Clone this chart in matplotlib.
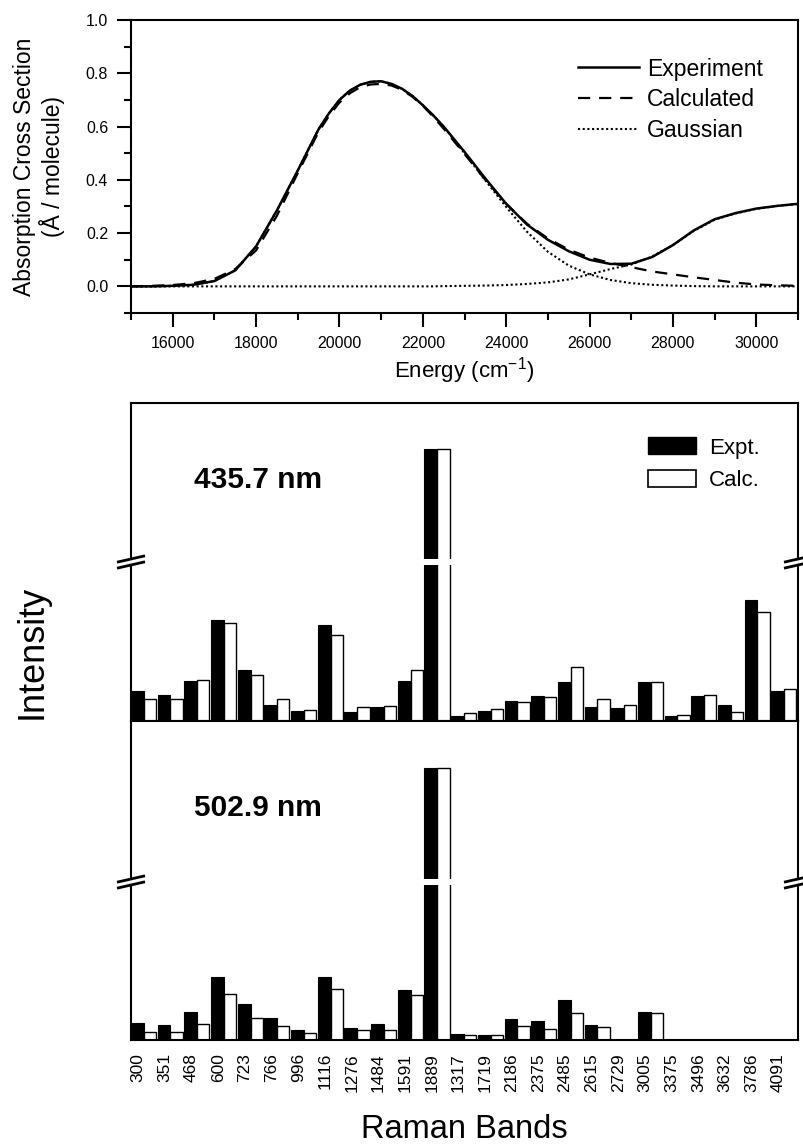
import numpy as np
import matplotlib
matplotlib.use("Agg")
import matplotlib.pyplot as plt
from matplotlib.lines import Line2D
from matplotlib.patches import Patch

plt.rcParams['font.family'] = ['Liberation Sans', 'DejaVu Sans']
plt.rcParams['mathtext.fontset'] = 'custom'
plt.rcParams['mathtext.rm'] = 'Liberation Sans'
plt.rcParams['mathtext.default'] = 'regular'

# ---- absorption spectrum ----
energy = [15000, 15500, 16000, 16500, 17000, 17500, 18000, 18500, 19000, 19500,
          19750, 20000, 20250, 20500, 20750, 21000, 21250, 21500, 21750, 22000,
          22250, 22500, 23000, 23500, 24000, 24500, 25000, 25500, 26000, 26500,
          27000, 27500, 28000, 28500, 29000, 29500, 30000, 30500, 31000]
experiment = [0.000, 0.000, 0.002, 0.006, 0.020, 0.060, 0.150, 0.285, 0.435, 0.590,
              0.650, 0.700, 0.735, 0.757, 0.768, 0.770, 0.760, 0.742, 0.715, 0.680,
              0.642, 0.600, 0.505, 0.405, 0.310, 0.232, 0.175, 0.132, 0.100, 0.084,
              0.085, 0.110, 0.155, 0.210, 0.252, 0.275, 0.292, 0.302, 0.310]
calculated = [0.000, 0.002, 0.005, 0.012, 0.028, 0.065, 0.135, 0.265, 0.425, 0.580,
              0.640, 0.690, 0.725, 0.748, 0.758, 0.760, 0.754, 0.738, 0.712, 0.678,
              0.637, 0.592, 0.497, 0.400, 0.310, 0.235, 0.180, 0.138, 0.108, 0.088,
              0.072, 0.056, 0.045, 0.034, 0.024, 0.014, 0.007, 0.004, 0.002]
gauss_main = [0.000, 0.000, 0.002, 0.006, 0.020, 0.060, 0.150, 0.285, 0.435, 0.590,
              0.650, 0.700, 0.735, 0.757, 0.768, 0.770, 0.760, 0.742, 0.715, 0.680,
              0.642, 0.600, 0.500, 0.398, 0.298, 0.205, 0.130, 0.078, 0.045, 0.024,
              0.012, 0.006, 0.003, 0.001, 0.000, 0.000, 0.000, 0.000, 0.000]
gauss_high = [0.000, 0.000, 0.000, 0.000, 0.000, 0.000, 0.000, 0.000, 0.000, 0.000,
              0.000, 0.000, 0.000, 0.000, 0.000, 0.000, 0.000, 0.000, 0.000, 0.000,
              0.000, 0.001, 0.002, 0.003, 0.005, 0.009, 0.015, 0.026, 0.045, 0.065,
              0.082, 0.112, 0.155, 0.208, 0.250, 0.274, 0.291, 0.302, 0.309]

# ---- Raman intensities (arbitrary units) ----
bands = ['300', '351', '468', '600', '723', '766', '996', '1116', '1276', '1484',
         '1591', '1889', '1317', '1719', '2186', '2375', '2485', '2615', '2729',
         '3005', '3375', '3496', '3632', '3786', '4091']
expt_436 = [0.30, 0.26, 0.40, 1.01, 0.51, 0.16, 0.10, 0.96, 0.09, 0.14, 0.40, 4.10, 0.05,
            0.10, 0.20, 0.25, 0.39, 0.14, 0.13, 0.39, 0.05, 0.25, 0.16, 1.21, 0.30]
calc_436 = [0.22, 0.22, 0.41, 0.98, 0.46, 0.22, 0.11, 0.86, 0.14, 0.15, 0.51, 4.10, 0.08,
            0.12, 0.19, 0.24, 0.54, 0.22, 0.16, 0.39, 0.06, 0.26, 0.09, 1.09, 0.32]
expt_503 = [0.17, 0.15, 0.28, 0.63, 0.36, 0.22, 0.10, 0.63, 0.12, 0.16, 0.50, 4.11, 0.06,
            0.05, 0.21, 0.19, 0.40, 0.15, 0.00, 0.28, 0.00, 0.00, 0.00, 0.00, 0.00]
calc_503 = [0.08, 0.08, 0.16, 0.46, 0.22, 0.14, 0.07, 0.51, 0.10, 0.10, 0.45, 4.11, 0.05,
            0.05, 0.14, 0.11, 0.27, 0.13, 0.00, 0.27, 0.00, 0.00, 0.00, 0.00, 0.00]

W, H = 804, 1146
fig = plt.figure(figsize=(W / 100, H / 100), dpi=100)


def rect(left, top, right, bottom):
    # pixel box -> figure fraction
    return [left / W, 1 - bottom / H, (right - left) / W, (bottom - top) / H]


# ================= top: absorption =================
ax = fig.add_axes(rect(131, 20, 798, 313))
ax.plot(energy, experiment, color='black', lw=1.8, label='Experiment')
ax.plot(energy, calculated, color='black', lw=1.6, dashes=(5.5, 4.0), label='Calculated')
ax.plot(energy, gauss_main, color='black', lw=1.5, dashes=(1, 1.25), label='Gaussian')
ax.plot(energy, gauss_high, color='black', lw=1.5, dashes=(1, 1.25))
ax.set_xlim(15000, 31000)
ax.set_ylim(-0.1, 1.0)
ax.set_xticks(np.arange(16000, 30001, 2000))
ax.set_xticks(np.arange(15000, 31001, 1000), minor=True)
ax.set_yticks(np.arange(0, 1.01, 0.2))
ax.set_yticks(np.arange(-0.1, 1.01, 0.1), minor=True)
ax.yaxis.set_major_formatter(matplotlib.ticker.FormatStrFormatter('%.1f'))
ax.tick_params(which='major', direction='out', length=10.4, width=1.5, labelsize=11.5, pad=6)
ax.tick_params(which='minor', direction='out', length=5, width=1.5)
for s in ax.spines.values():
    s.set_linewidth(1.5)
ax.set_xlabel('Energy (cm$^{-1}$)', fontsize=16, labelpad=3)
ax.set_ylabel('Absorption Cross Section\n(Å / molecule)', fontsize=16.5, linespacing=1.15)
ax.yaxis.set_label_coords(-0.099, 0.5)
ax.legend(loc='upper left', bbox_to_anchor=(0.670, 0.872), frameon=False, fontsize=16.5,
          handlelength=2.65, handletextpad=0.35, labelspacing=0.33, borderpad=0,
          borderaxespad=0)

# ================= bottom: Raman bars (broken axes) =================
x = np.arange(len(bands))
panels = [
    (rect(131, 403, 798, 559), rect(131, 565, 798, 721), expt_436, calc_436,
     (3.0, 4.56), (0, 1.56), '435.7 nm', 0.506),
    (rect(131, 721, 798, 879), rect(131, 885, 798, 1040), expt_503, calc_503,
     (3.0, 4.58), (0, 1.55), '502.9 nm', 0.449),
]
axes_pairs = []
for hi_rect, lo_rect, ex, ca, hi_lim, lo_lim, tag, ty in panels:
    ax_hi = fig.add_axes(hi_rect)
    ax_lo = fig.add_axes(lo_rect)
    for a in (ax_hi, ax_lo):
        a.bar(x, ex, width=0.48, align='edge', color='black', edgecolor='black', lw=0.8,
              label='Expt.')
        a.bar(x + 0.48, ca, width=0.46, align='edge', color='white', edgecolor='black',
              lw=1.0, label='Calc.')
        a.set_xlim(0, len(bands))
        a.set_yticks([])
        for s in a.spines.values():
            s.set_linewidth(1.5)
    ax_hi.set_ylim(*hi_lim)
    ax_lo.set_ylim(*lo_lim)
    ax_hi.spines['bottom'].set_visible(False)
    ax_lo.spines['top'].set_visible(False)
    ax_hi.set_xticks([])
    ax_hi.text(0.19, ty, tag, transform=ax_hi.transAxes, ha='center', va='center',
               fontsize=21.5, fontweight='bold')
    axes_pairs.append((ax_hi, ax_lo))

# break marks on both spines
for ax_hi, ax_lo in axes_pairs:
    y_top = (1 - ax_hi.get_position().y0) * H
    y_bot = (1 - ax_lo.get_position().y1) * H
    for xs in (131, 798):
        for yc in (y_top, y_bot):
            fig.add_artist(Line2D([(xs - 14) / W, (xs + 14) / W],
                                  [1 - (yc + 3.2) / H, 1 - (yc - 3.2) / H],
                                  transform=fig.transFigure, color='black', lw=2.0,
                                  solid_capstyle='butt'))

ax1_hi = axes_pairs[0][0]
ax1_lo = axes_pairs[0][1]
ax1_lo.set_xticks([])
ax2_lo = axes_pairs[1][1]
ax2_lo.set_xticks(x + 0.27)
ax2_lo.set_xticklabels(bands, rotation=90, fontsize=12.5)
ax2_lo.tick_params(axis='x', length=0, pad=9.4)
ax2_lo.set_xlabel('Raman Bands', fontsize=23.5, labelpad=16)

ax1_hi.legend(handles=[Patch(facecolor='black', edgecolor='black'),
                       Patch(facecolor='white', edgecolor='black', lw=1.2)],
              labels=['Expt.', 'Calc.'], loc='upper left', bbox_to_anchor=(0.775, 0.78),
              frameon=False, fontsize=16, handlelength=2.16, handleheight=0.81,
              handletextpad=0.6, labelspacing=0.5, borderpad=0, borderaxespad=0)

fig.text(32 / W, 1 - 652 / H, 'Intensity', rotation=90, ha='center', va='center',
         fontsize=26)

fig.savefig('out.png', dpi=100)
